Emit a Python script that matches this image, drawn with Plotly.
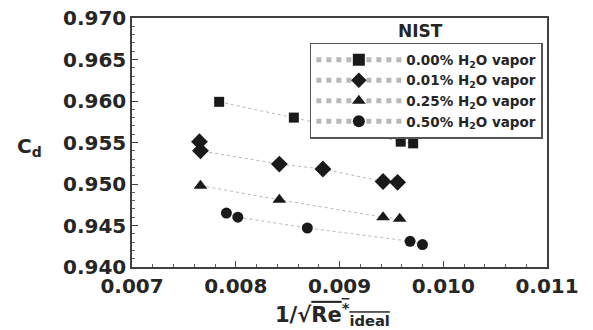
import plotly.graph_objects as go

# Data
x_000 = [0.00784, 0.00856, 0.00900, 0.00959, 0.00971]
y_000 = [0.9599, 0.9580, 0.9568, 0.9551, 0.9549]

x_001 = [0.00765, 0.00766, 0.00842, 0.00884, 0.00942, 0.00956]
y_001 = [0.9551, 0.9540, 0.9524, 0.9518, 0.9503, 0.9502]

x_025 = [0.00766, 0.00842, 0.00942, 0.00958]
y_025 = [0.9498, 0.9481, 0.9460, 0.9458]

x_050 = [0.00791, 0.00802, 0.00869, 0.00968, 0.00980]
y_050 = [0.9465, 0.9460, 0.9447, 0.9431, 0.9427]

series_names = ["0.00% H<sub>2</sub>O vapor", "0.01% H<sub>2</sub>O vapor",
                "0.25% H<sub>2</sub>O vapor", "0.50% H<sub>2</sub>O vapor"]
symbols = ["square", "diamond", "triangle-up", "circle"]
sizes = [10, 13, 12, 11]

x_ticks = [0.007, 0.008, 0.009, 0.010, 0.011]
y_ticks = [0.940, 0.945, 0.950, 0.955, 0.960, 0.965, 0.970]

FONT = "DejaVu Sans"
DARK = "#262626"

fig = go.Figure()
for xs, ys, name, sym, sz in zip([x_000, x_001, x_025, x_050],
                                 [y_000, y_001, y_025, y_050],
                                 series_names, symbols, sizes):
    fig.add_trace(go.Scatter(
        x=xs, y=ys, name=name, mode="lines+markers",
        line=dict(color="#b8b8b8", width=1, dash="dot"),
        marker=dict(symbol=sym, size=sz, color="#1a1a1a"),
    ))

axis_common = dict(
    showline=True, linecolor="#404040", linewidth=1.5, mirror=True,
    showgrid=False, zeroline=False, automargin=False,
    ticklabeloverflow="allow",
    ticks="inside", ticklen=6, tickwidth=1.2, tickcolor="#404040",
    tickfont=dict(family=FONT, size=20, color=DARK, weight="bold"),
)

fig.update_xaxes(
    range=[0.007, 0.011], tickvals=x_ticks, tickformat=".3f",
    minor=dict(dtick=0.0002, ticks="inside", ticklen=3, tickcolor="#606060"),
    **axis_common,
)
fig.update_yaxes(
    range=[0.940, 0.970], tickvals=y_ticks, tickformat=".3f",
    minor=dict(dtick=0.001, ticks="inside", ticklen=3, tickcolor="#606060"),
    **axis_common,
)

fig.add_annotation(text="C<sub>d</sub>", xref="paper", yref="paper",
                   x=-0.246, y=0.48, showarrow=False,
                   xanchor="center", yanchor="middle",
                   font=dict(family=FONT, size=20, color=DARK, weight="bold"))
fig.add_annotation(text="1/√<span style='text-decoration:overline'>Re<sup>*</sup><sub>ideal</sub></span>",
                   xref="paper", yref="paper", x=0.484, y=-0.19,
                   showarrow=False, xanchor="center", yanchor="middle",
                   font=dict(family=FONT, size=21, color=DARK, weight="bold"))
fig.add_annotation(text="NIST", xref="paper", yref="paper",
                   x=0.694, y=0.948, showarrow=False,
                   xanchor="center", yanchor="middle",
                   font=dict(family=FONT, size=17, color=DARK, weight="bold"))

# the page body has an 8px margin: figure shrunk by 8px, left/top margins reduced
fig.update_layout(
    width=585, height=322,
    margin=dict(l=124, r=46, t=10, b=63),
    paper_bgcolor="white", plot_bgcolor="white",
    showlegend=True,
    legend=dict(x=0.99, xanchor="right", y=0.90, yanchor="top",
                bgcolor="white", bordercolor="#555555", borderwidth=1.5,
                font=dict(family=FONT, size=13.5, color=DARK, weight="bold"),
                itemwidth=85, tracegroupgap=0, itemsizing="constant"),
)

fig.write_html("out.html")
